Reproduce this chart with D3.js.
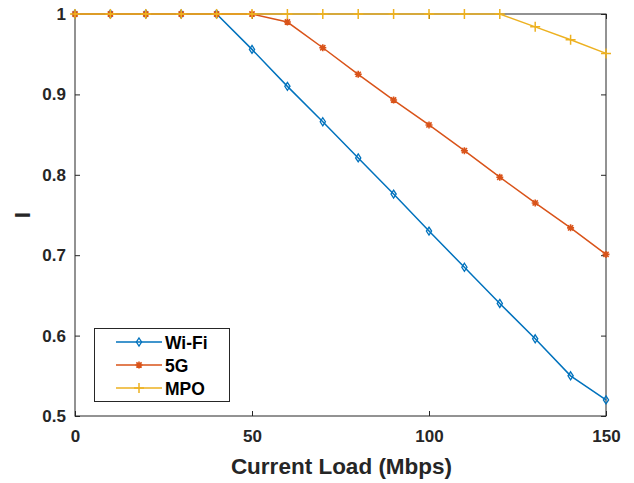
<!DOCTYPE html>
<html>
<head>
<meta charset="utf-8">
<script src="https://cdn.jsdelivr.net/npm/d3@7"></script>
<style>
  html, body { margin: 0; padding: 0; background: #fff; }
  svg { display: block; font-family: "Liberation Sans", Arial, sans-serif; font-weight: bold; }
</style>
</head>
<body>
<div id="chart"></div>
<script>
const loads = [0, 10, 20, 30, 40, 50, 60, 70, 80, 90, 100, 110, 120, 130, 140, 150];
const wifi = [1, 1, 1, 1, 1, 0.956, 0.910, 0.866, 0.821, 0.776, 0.730, 0.685, 0.640, 0.596, 0.550, 0.520];
const fiveG = [1, 1, 1, 1, 1, 1, 0.990, 0.958, 0.925, 0.893, 0.862, 0.830, 0.797, 0.765, 0.734, 0.701];
const mpo = [1, 1, 1, 1, 1, 1, 1, 1, 1, 1, 1, 1, 1, 0.984, 0.968, 0.951];
const xTicks = [0, 50, 100, 150];
const yTicks = [0.5, 0.6, 0.7, 0.8, 0.9, 1];

const series = [
  { name: "Wi-Fi", values: wifi, color: "#0072BD", marker: "diamond" },
  { name: "5G", values: fiveG, color: "#D95319", marker: "star" },
  { name: "MPO", values: mpo, color: "#EDB120", marker: "plus" }
];

const width = 634, height = 483;
const box = { left: 75, right: 606, top: 14, bottom: 416 };

const svg = d3.select("#chart").append("svg")
  .attr("width", width).attr("height", height);

const x = d3.scaleLinear().domain([0, 150]).range([box.left, box.right]);
const y = d3.scaleLinear().domain([0.5, 1]).range([box.bottom, box.top]);

// ticks inside the box, MATLAB style
const tickLen = 5;
const gx = svg.append("g").attr("transform", `translate(0,${box.bottom})`)
  .call(d3.axisBottom(x).tickValues(xTicks).tickSizeInner(-tickLen).tickSizeOuter(0).tickPadding(14).tickFormat(d3.format("d")));
const gy = svg.append("g").attr("transform", `translate(${box.left},0)`)
  .call(d3.axisLeft(y).tickValues(yTicks).tickSizeInner(-tickLen).tickSizeOuter(0).tickPadding(9).tickFormat((d) => d === 1 ? "1" : d3.format(".1f")(d)));
// top/right ticks
svg.append("g").attr("transform", `translate(0,${box.top})`)
  .call(d3.axisTop(x).tickValues(xTicks).tickSizeInner(-tickLen).tickSizeOuter(0).tickFormat(""));
svg.append("g").attr("transform", `translate(${box.right},0)`)
  .call(d3.axisRight(y).tickValues(yTicks).tickSizeInner(-tickLen).tickSizeOuter(0).tickFormat(""));

svg.selectAll(".domain").attr("stroke", "none");
svg.selectAll(".tick line").attr("stroke", "#262626");
[gx, gy].forEach((g) => g.selectAll("text")
  .attr("fill", "#262626").style("font-size", "17px").style("font-weight", "bold")
  .style("font-family", "'Liberation Sans', Arial, sans-serif"));

svg.append("rect")
  .attr("x", box.left).attr("y", box.top)
  .attr("width", box.right - box.left).attr("height", box.bottom - box.top)
  .attr("fill", "none").attr("stroke", "#262626").attr("stroke-width", 1);

svg.append("text")
  .attr("x", (box.left + box.right) / 2 + 1).attr("y", 474)
  .attr("text-anchor", "middle").attr("fill", "#262626")
  .style("font-size", "22.5px").text("Current Load (Mbps)");
svg.append("text")
  .attr("transform", `translate(30,${(box.top + box.bottom) / 2}) rotate(-90)`)
  .attr("text-anchor", "middle").attr("fill", "#262626")
  .style("font-size", "22.5px").text("I");

function drawMarker(g, kind, color) {
  if (kind === "diamond") {
    g.append("path").attr("d", "M0,-4L2.6,0L0,4L-2.6,0Z")
      .attr("fill", "none").attr("stroke", color).attr("stroke-width", 1.3);
  } else if (kind === "star") {
    g.append("path").attr("d", "M-3.5,0H3.5M0,-3.5V3.5M-2.6,-2.6L2.6,2.6M-2.6,2.6L2.6,-2.6")
      .attr("stroke", color).attr("stroke-width", 1.6);
  } else {
    g.append("path").attr("d", "M-5,0H5M0,-5V5")
      .attr("stroke", color).attr("stroke-width", 1.5);
  }
}

const line = d3.line().x((d) => x(d[0])).y((d) => y(d[1]));
const plot = svg.append("g");
series.forEach((s) => {
  const pts = loads.map((l, i) => [l, s.values[i]]);
  plot.append("path").datum(pts)
    .attr("d", line).attr("fill", "none")
    .attr("stroke", s.color).attr("stroke-width", 1.5);
  pts.forEach((p) => {
    drawMarker(plot.append("g").attr("transform", `translate(${x(p[0])},${y(p[1])})`), s.marker, s.color);
  });
});

// legend
const leg = svg.append("g");
leg.append("rect").attr("x", 94.5).attr("y", 328.5).attr("width", 135).attr("height", 73)
  .attr("fill", "#fff").attr("stroke", "#262626").attr("stroke-width", 1);
series.forEach((s, i) => {
  const cy = 342 + i * 23;
  leg.append("line").attr("x1", 116).attr("x2", 162).attr("y1", cy).attr("y2", cy)
    .attr("stroke", s.color).attr("stroke-width", 1.5);
  drawMarker(leg.append("g").attr("transform", `translate(139,${cy})`), s.marker, s.color);
  leg.append("text").attr("x", 165).attr("y", cy + 6.5)
    .attr("fill", "#000").style("font-size", "17.5px").text(s.name);
});
</script>
</body>
</html>
